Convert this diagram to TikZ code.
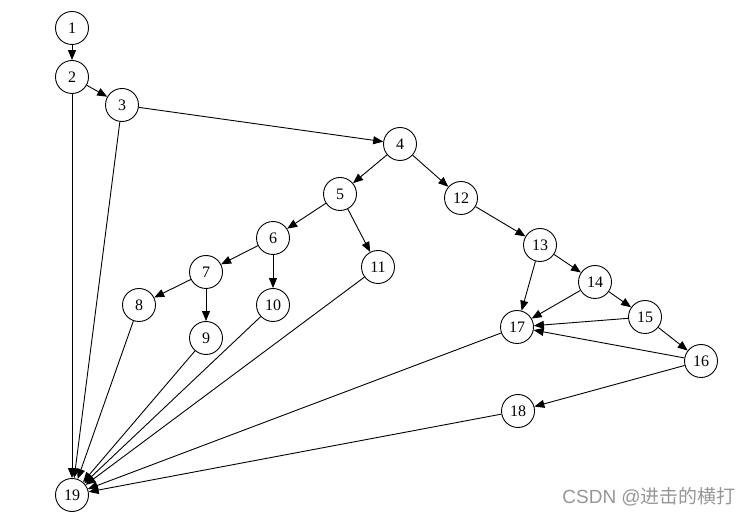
\documentclass[tikz,border=0pt]{standalone}
\usepackage{fontspec}
\setmainfont{Liberation Serif}
\setsansfont{Liberation Sans}
\newfontfamily\cjkfont{Noto Sans CJK SC}
\usepackage{tikz}
\usetikzlibrary{arrows.meta}
\usepackage{xcolor}
\definecolor{dark}{RGB}{0,0,0}
\definecolor{mark}{RGB}{150,150,150}

\begin{document}
\begin{tikzpicture}[
    x=1pt, y=-1pt,
    vertex/.style={circle, draw=dark, line width=0.9pt, minimum size=33pt, inner sep=0pt, font=\fontsize{16}{16}\selectfont, fill=white},
    arr/.style={-{Triangle[length=10pt, width=8pt]}, line width=0.9pt, dark},
]

% Canvas
\useasboundingbox (0,0) rectangle (750,518);

% Vertices
\node[vertex] (v1) at (72,28) {1};
\node[vertex] (v2) at (72,77) {2};
\node[vertex] (v3) at (122,105) {3};
\node[vertex] (v4) at (400,144) {4};
\node[vertex] (v5) at (340,194) {5};
\node[vertex] (v6) at (273,238) {6};
\node[vertex] (v7) at (206,272) {7};
\node[vertex] (v8) at (139,305) {8};
\node[vertex] (v9) at (206,338) {9};
\node[vertex] (v10) at (273,305) {10};
\node[vertex] (v11) at (378,267) {11};
\node[vertex] (v12) at (461,198) {12};
\node[vertex] (v13) at (540,245) {13};
\node[vertex] (v14) at (595,282) {14};
\node[vertex] (v15) at (645,317) {15};
\node[vertex] (v16) at (701,361) {16};
\node[vertex] (v17) at (517,327) {17};
\node[vertex] (v18) at (518,411) {18};
\node[vertex] (v19) at (72,495) {19};

% Watermark
\node[font=\sffamily\fontsize{19}{19}\selectfont, text=mark, anchor=east, inner sep=0pt] (wm) at (736,497) {CSDN @{\cjkfont 进击的横打}};

% Edges
\draw[arr] (v1) -- (v2);
\draw[arr] (v2) -- (v3);
\draw[arr] (v3) -- (v4);
\draw[arr] (v4) -- (v5);
\draw[arr] (v4) -- (v12);
\draw[arr] (v5) -- (v6);
\draw[arr] (v5) -- (v11);
\draw[arr] (v6) -- (v7);
\draw[arr] (v6) -- (v10);
\draw[arr] (v7) -- (v8);
\draw[arr] (v7) -- (v9);
\draw[arr] (v12) -- (v13);
\draw[arr] (v13) -- (v17);
\draw[arr] (v13) -- (v14);
\draw[arr] (v14) -- (v17);
\draw[arr] (v14) -- (v15);
\draw[arr] (v15) -- (v17);
\draw[arr] (v15) -- (v16);
\draw[arr] (v16) -- (v17);
\draw[arr] (v16) -- (v18);

% Edges into the exit vertex
\foreach \src in {2,3,8,9,10,11,17,18}
    \draw[arr] (v\src) -- (v19);

\end{tikzpicture}
\end{document}
